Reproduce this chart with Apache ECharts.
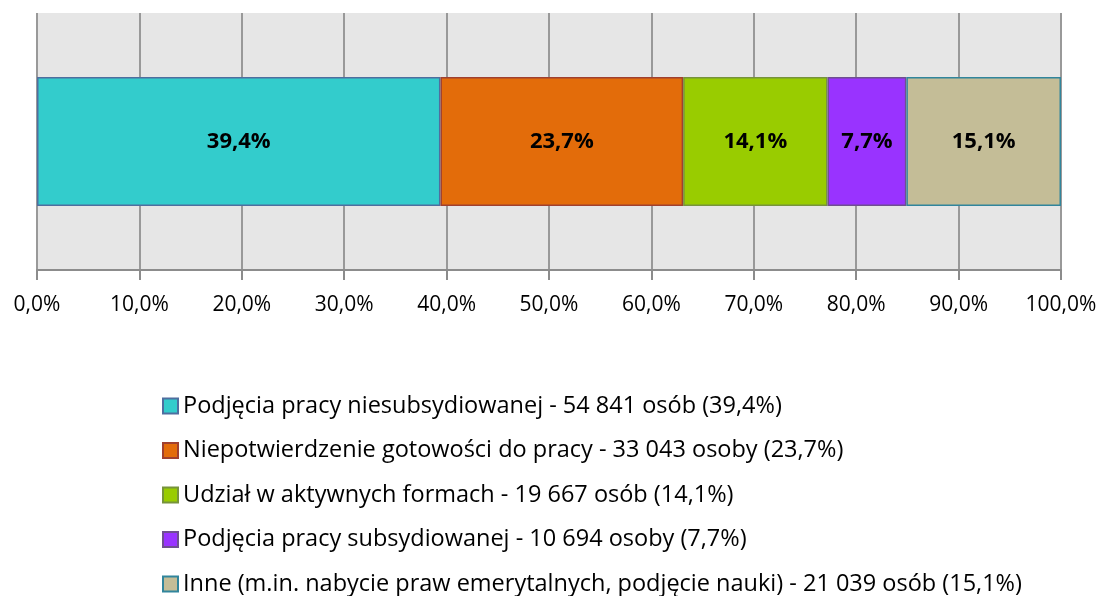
<!DOCTYPE html>
<html lang="pl">
<head>
  <meta charset="UTF-8">
  <title>Wyłączenia z ewidencji</title>
  <style>
    html, body { margin: 0; padding: 0; background: #fff; }
    #chart { width: 1104px; height: 596px; }
  </style>
</head>
<body>
<div id="chart"></div>
<script src="https://cdn.jsdelivr.net/npm/echarts@6/dist/echarts.min.js"></script>
<script>
  // dane
  const seriesNames = [
    'Podjęcia pracy niesubsydiowanej - 54 841 osób (39,4%)',
    'Niepotwierdzenie gotowości do pracy - 33 043 osoby (23,7%)',
    'Udział w aktywnych formach - 19 667 osób (14,1%)',
    'Podjęcia pracy subsydiowanej - 10 694 osoby (7,7%)',
    'Inne (m.in. nabycie praw emerytalnych, podjęcie nauki) - 21 039 osób (15,1%)'
  ];
  const shares = [39.4, 23.7, 14.1, 7.7, 15.1];
  const fillColors = ['#33CCCC', '#E36C0A', '#99CC00', '#9933FF', '#C4BD97'];
  const borderColors = ['#4F6E9F', '#A0402F', '#77933C', '#6F4F90', '#31859C'];

  const font = '"Open Sans", Lato, sans-serif';
  const fmt = v => v.toFixed(1).replace('.', ',') + '%';

  const chart = echarts.init(document.getElementById('chart'));

  const series = seriesNames.map((name, i) => ({
    name: name,
    type: 'bar',
    stack: 'all',
    barWidth: 129,
    data: [shares[i]],
    itemStyle: {
      color: fillColors[i],
      borderColor: borderColors[i],
      borderWidth: 1.5
    },
    label: {
      show: true,
      position: 'inside',
      color: '#000',
      fontFamily: font,
      fontWeight: 'bold',
      fontSize: 22,
      formatter: p => fmt(p.value)
    },
    emphasis: { disabled: true }
  }));

  chart.setOption({
    animation: false,
    grid: {
      left: 37,
      right: 43,
      top: 13,
      bottom: 326,
      show: true,
      backgroundColor: '#e6e6e6',
      borderWidth: 0
    },
    xAxis: {
      type: 'value',
      min: 0,
      max: 100,
      interval: 10,
      axisLine: { show: true, lineStyle: { color: '#8c8c8c', width: 2 } },
      axisTick: { show: true, inside: false, length: 10, lineStyle: { color: '#8c8c8c', width: 2 } },
      splitLine: { show: true, lineStyle: { color: '#999', width: 2 } },
      axisLabel: {
        margin: 25,
        color: '#000',
        fontFamily: font,
        fontSize: 21,
        formatter: v => fmt(v)
      }
    },
    yAxis: {
      type: 'category',
      data: [''],
      show: false
    },
    legend: {
      orient: 'vertical',
      left: 162,
      top: 394,
      padding: 0,
      itemWidth: 15,
      itemHeight: 15,
      itemGap: 20.5,
      icon: 'rect',
      selectedMode: false,
      textStyle: { color: '#000', fontFamily: font, fontSize: 23.5 },
      data: seriesNames
    },
    series: series
  });
</script>
</body>
</html>
